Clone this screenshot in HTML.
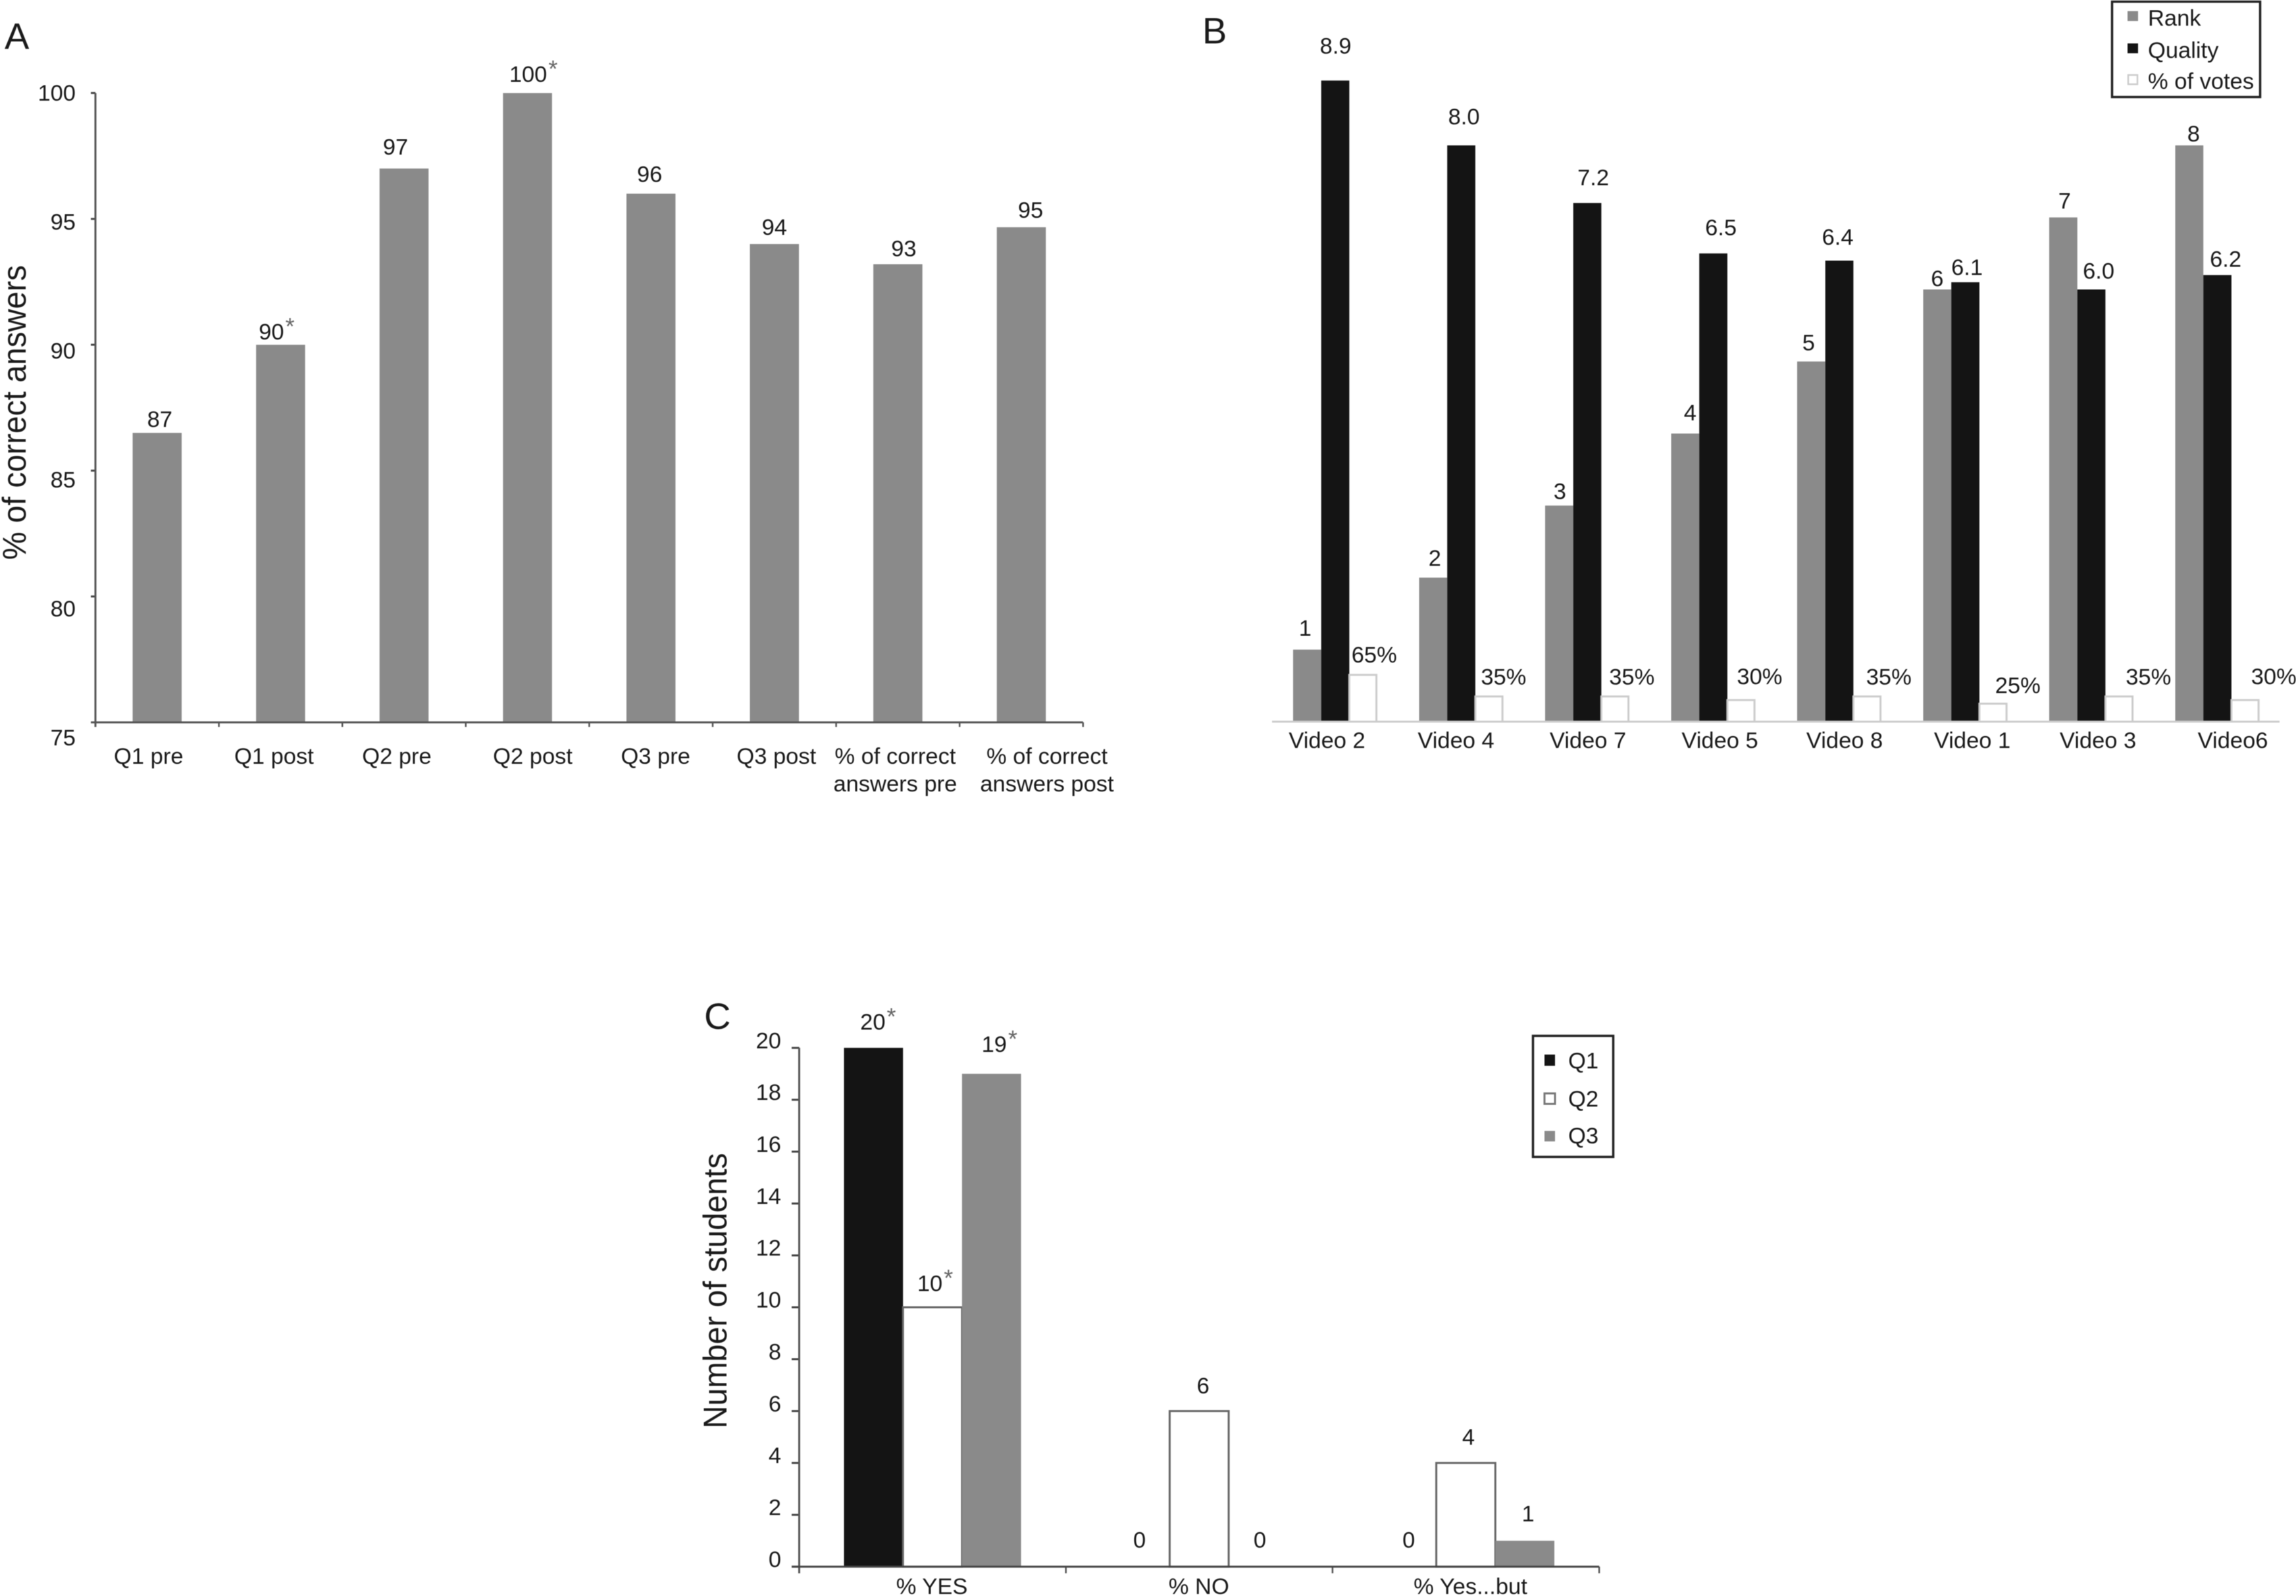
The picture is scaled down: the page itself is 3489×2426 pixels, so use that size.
<!DOCTYPE html>
<html lang="en">
<head>
<meta charset="utf-8">
<title>Panels A, B and C bar charts</title>
<style>
  html, body { margin: 0; padding: 0; background: #fff; }
  #figure { display: block; width: 3489px; height: 2426px; font-family: "Liberation Sans", sans-serif; fill: #1a1a1a; filter: blur(0.6px); }
  #figure text { font-size: 34.5px; }
  #figure .panel-letter { font-size: 56px; }
  #figure .axis-title { font-size: 48px; }
  #figure .star { font-size: 36px; fill: #666; }
</style>
</head>
<body>
<svg id="figure" xmlns="http://www.w3.org/2000/svg" width="3489" height="2426" viewBox="0 0 3489 2426">
  <rect x="0" y="0" width="3489" height="2426" fill="#fff"/>

  <g id="panel-a">
    <text class="panel-letter" x="7" y="74">A</text>
    <text class="axis-title" transform="translate(39 627) rotate(-90) scale(1 1.04)" text-anchor="middle">% of correct answers</text>
  </g>

  <g id="panel-b">
    <text class="panel-letter" x="1827" y="66">B</text>
    <g>
      <rect x="3209.5" y="2.5" width="225" height="145" fill="#fff" stroke="#222" stroke-width="3.5"/>
      <rect x="3233" y="17" width="16" height="15" fill="#8a8a8a"/>
      <text x="3264" y="39">Rank</text>
      <rect x="3233" y="66" width="16" height="15" fill="#141414"/>
      <text x="3264" y="88">Quality</text>
      <rect x="3234" y="114" width="14" height="14" fill="#fff" stroke="#ccc" stroke-width="2.5"/>
      <text x="3264" y="135">% of votes</text>
    </g>
  </g>

  <g id="panel-c">
    <text class="panel-letter" x="1070" y="1564">C</text>
    <text class="axis-title" transform="translate(1104 1962) rotate(-90) scale(1 1.04)" text-anchor="middle">Number of students</text>
    <g>
      <rect x="2329.5" y="1574.5" width="122" height="184" fill="#fff" stroke="#222" stroke-width="3.5"/>
      <rect x="2347" y="1603" width="16" height="17" fill="#141414"/>
      <text x="2383" y="1624">Q1</text>
      <rect x="2347" y="1662" width="16" height="16" fill="#fff" stroke="#777" stroke-width="3"/>
      <text x="2383" y="1682">Q2</text>
      <rect x="2347" y="1719" width="16" height="16" fill="#8a8a8a"/>
      <text x="2383" y="1738">Q3</text>
    </g>
  </g>
</svg>

<script>
// ---------- Panel A data ----------
const aCategories = [["Q1 pre"], ["Q1 post"], ["Q2 pre"], ["Q2 post"], ["Q3 pre"], ["Q3 post"], ["% of correct", "answers pre"], ["% of correct", "answers post"]];
const aValues = [86.5, 90, 97, 100, 96, 94, 93.2, 94.67];
const aPrinted = ["87", "90", "97", "100", "96", "94", "93", "95"];
const aStarred = [false, true, false, true, false, false, false, false];
const aTicks = [75, 80, 85, 90, 95, 100];

// ---------- Panel B data ----------
const bCategories = ["Video 2", "Video 4", "Video 7", "Video 5", "Video 8", "Video 1", "Video 3", "Video6"];
const bRank = [1, 2, 3, 4, 5, 6, 7, 8];
const bQuality = [8.9, 8.0, 7.2, 6.5, 6.4, 6.1, 6.0, 6.2];
const bVotes = [65, 35, 35, 30, 35, 25, 35, 30];

// ---------- Panel C data ----------
const cCategories = ["% YES", "% NO", "% Yes...but"];
const cQ1 = [20, 0, 0];
const cQ2 = [10, 6, 4];
const cQ3 = [19, 0, 1];
const cQ1Starred = [true, false, false];
const cQ2Starred = [true, false, false];
const cQ3Starred = [true, false, false];
const cTicks = [0, 2, 4, 6, 8, 10, 12, 14, 16, 18, 20];

// ---------- Hand-placement nudges for labels (layout, not data) ----------
const aLabelNudge = { dx: [4, -14, -13, 1, -2, 0, 9, 14], dy: [9, 8, 21, 17, 18, 14, 12, 14.5], catDx: [-13, -10, -11, 8, 7, 3, -4, 39] };
const bLabelNudge = {
  rankDx: [-3, 2.5, 1, 7.5, -4, 0, 2, 6.5], rankDy: [21, 18, 10, 20, 17, 5, 13.5, 6],
  qualDx: [0.6, 4, 9, 11.5, -2.5, 2.5, 11, 12.5], qualDy: [41, 32, 27, 28, 24, 11, 16.6, 12.7],
  voteDx: [16.5, 21.6, 25, 27.7, 32.5, 37, 44, 43], voteDy: [19, 18, 18, 24, 18, 16, 18, 24],
  catDx: [-12.5, -8, 1, 10, 8, 10.5, 10, 23.5]
};
const cLabelNudge = { q1Dx: [-1, -1, 3], q2Dx: [-4, 6, 4], q3Dx: [4, 2.5, 5], q1Dy: [28, 29, 29], q2Dy: [24.4, 27, 27.7], q3Dy: [33, 29, 29.4], catDx: [-1, -0.5, 7] };

const SVGNS = 'http://www.w3.org/2000/svg';
function mk(parent, tag, attrs, text) {
  const node = document.createElementNS(SVGNS, tag);
  for (const k in attrs) node.setAttribute(k, attrs[k]);
  if (text !== undefined) node.textContent = text;
  parent.appendChild(node);
  return node;
}
function addStar(parent, cx, baseline, labelText) {
  const halfWidth = labelText.length * 9.6;
  const el = mk(parent, 'text', { x: cx + halfWidth + 2, y: baseline - 7.5, class: 'star' }, '*');
  
  
}

// ---------- Panel A ----------
(function () {
  const g = document.getElementById('panel-a');
  const x0 = 145, step = 187.6, barW = 74.5, base = 1098, top = 141.4;
  const yA = v => base - (v - 75) * (base - top) / 25;
  const yLabelA = v => 153 + (100 - v) * 39.2;
  const cx = i => x0 + step * (i + 0.5);

  aValues.forEach((v, i) => {
    const el = mk(g, 'rect', { x: cx(i) - barW / 2, y: yA(v), width: barW, height: base - yA(v), fill: '#8a8a8a' });
    
    
    const lx = cx(i) + aLabelNudge.dx[i], ly = yA(v) - aLabelNudge.dy[i];
    const t = mk(g, 'text', { x: lx, y: ly, 'text-anchor': 'middle' }, aPrinted[i]);
    
    
    if (aStarred[i]) addStar(g, lx, ly, aPrinted[i]);
  });

  aTicks.forEach(v => {
    const tick = mk(g, 'line', { x1: x0 - 7, x2: x0, y1: yA(v), y2: yA(v), stroke: '#444', 'stroke-width': 3 });
    
    
    const t = mk(g, 'text', { x: 115, y: yLabelA(v), 'text-anchor': 'end' }, String(v));
    
    
  });

  aCategories.forEach((lines, i) => {
    const tick = mk(g, 'line', { x1: x0 + step * (i + 1), x2: x0 + step * (i + 1), y1: base, y2: base + 7, stroke: '#555', 'stroke-width': 2.5 });
    
    
    lines.forEach((line, j) => {
      const t = mk(g, 'text', { x: cx(i) + aLabelNudge.catDx[i], y: 1161 + j * 42, 'text-anchor': 'middle' }, line);
      
      
    });
  });

  const yAxis = mk(g, 'line', { x1: x0, x2: x0, y1: top, y2: base + 7, stroke: '#555', 'stroke-width': 3 });
  
  
  const xAxis = mk(g, 'line', { x1: x0 - 7, x2: x0 + step * aCategories.length, y1: base, y2: base, stroke: '#555', 'stroke-width': 3 });
  
  
})();

// ---------- Panel B ----------
(function () {
  const g = document.getElementById('panel-b');
  const x0 = 1965, step = 191.5, barW = 42.7, base = 1097, unit = 109.5;
  const yB = v => base - v * unit;
  const yVote = pct => yB(pct / 100);
  const barX = (i, s) => x0 + step * i + barW * s;

  bCategories.forEach((name, i) => {
    const r = mk(g, 'rect', { x: barX(i, 0), y: yB(bRank[i]), width: barW, height: base - yB(bRank[i]), fill: '#8a8a8a' });
    
    
    const q = mk(g, 'rect', { x: barX(i, 1), y: yB(bQuality[i]), width: barW, height: base - yB(bQuality[i]), fill: '#141414' });
    
    
    const vb = mk(g, 'rect', { x: barX(i, 2), y: yVote(bVotes[i]), width: barW - 1.5, height: base - yVote(bVotes[i]), fill: '#fff', stroke: '#ccc', 'stroke-width': 3 });
    
    

    const t1 = mk(g, 'text', { x: barX(i, 0.5) + bLabelNudge.rankDx[i], y: yB(bRank[i]) - bLabelNudge.rankDy[i], 'text-anchor': 'middle' }, String(bRank[i]));
    
    
    const t2 = mk(g, 'text', { x: barX(i, 1.5) + bLabelNudge.qualDx[i], y: yB(bQuality[i]) - bLabelNudge.qualDy[i], 'text-anchor': 'middle' }, bQuality[i].toFixed(1));
    
    
    const t3 = mk(g, 'text', { x: barX(i, 2.5) + bLabelNudge.voteDx[i], y: yVote(bVotes[i]) - bLabelNudge.voteDy[i], 'text-anchor': 'middle' }, bVotes[i] + '%');
    
    
    const c = mk(g, 'text', { x: barX(i, 1.5) + bLabelNudge.catDx[i], y: 1137, 'text-anchor': 'middle' }, name);
    
    
  });

  const xAxis = mk(g, 'line', { x1: 1933, x2: 3464, y1: base, y2: base, stroke: '#ccc', 'stroke-width': 3 });
  
  
})();

// ---------- Panel C ----------
(function () {
  const g = document.getElementById('panel-c');
  const x0 = 1214.5, step = 405.2, groupPad = 68, barW = 89.7, base = 2381.4, top = 1592.8;
  const yC = v => base - v * (base - top) / 20;
  const barX = (i, s) => x0 + groupPad + step * i + barW * s;

  function label(v, starred, i, s, dx, dy, name) {
    const lx = barX(i, s + 0.5) + dx, ly = yC(v) - dy;
    const t = mk(g, 'text', { x: lx, y: ly, 'text-anchor': 'middle' }, String(v));
    
    
    if (starred) addStar(g, lx, ly, String(v));
  }

  cCategories.forEach((name, i) => {
    const a = mk(g, 'rect', { x: barX(i, 0), y: yC(cQ1[i]), width: barW, height: base - yC(cQ1[i]), fill: '#141414' });
    
    
    const b = mk(g, 'rect', { x: barX(i, 1), y: yC(cQ2[i]), width: barW, height: base - yC(cQ2[i]), fill: '#fff', stroke: '#666', 'stroke-width': 3 });
    
    
    const d = mk(g, 'rect', { x: barX(i, 2), y: yC(cQ3[i]), width: barW, height: base - yC(cQ3[i]), fill: '#8a8a8a' });
    
    

    label(cQ1[i], cQ1Starred[i], i, 0, cLabelNudge.q1Dx[i], cLabelNudge.q1Dy[i], 'panel-c-q1-label');
    label(cQ2[i], cQ2Starred[i], i, 1, cLabelNudge.q2Dx[i], cLabelNudge.q2Dy[i], 'panel-c-q2-label');
    label(cQ3[i], cQ3Starred[i], i, 2, cLabelNudge.q3Dx[i], cLabelNudge.q3Dy[i], 'panel-c-q3-label');

    const c = mk(g, 'text', { x: x0 + step * (i + 0.5) + cLabelNudge.catDx[i], y: 2423, 'text-anchor': 'middle' }, name);
    
    
  });

  cTicks.forEach(v => {
    const tick = mk(g, 'line', { x1: x0 - 11.5, x2: x0, y1: yC(v), y2: yC(v), stroke: '#444', 'stroke-width': 3 });
    
    
    const t = mk(g, 'text', { x: 1187, y: yC(v) + 0.5, 'text-anchor': 'end' }, String(v));
    
    
  });

  [0, 1, 2, 3].forEach(i => {
    const tick = mk(g, 'line', { x1: x0 + step * i, x2: x0 + step * i, y1: base, y2: base + 10, stroke: '#555', 'stroke-width': 2.5 });
    
    
  });

  const yAxis = mk(g, 'line', { x1: x0, x2: x0, y1: top, y2: base + 10, stroke: '#555', 'stroke-width': 3 });
  
  
  const xAxis = mk(g, 'line', { x1: x0 - 11.5, x2: x0 + step * cCategories.length, y1: base, y2: base, stroke: '#444', 'stroke-width': 3 });
  
  
})();
</script>
</body>
</html>
